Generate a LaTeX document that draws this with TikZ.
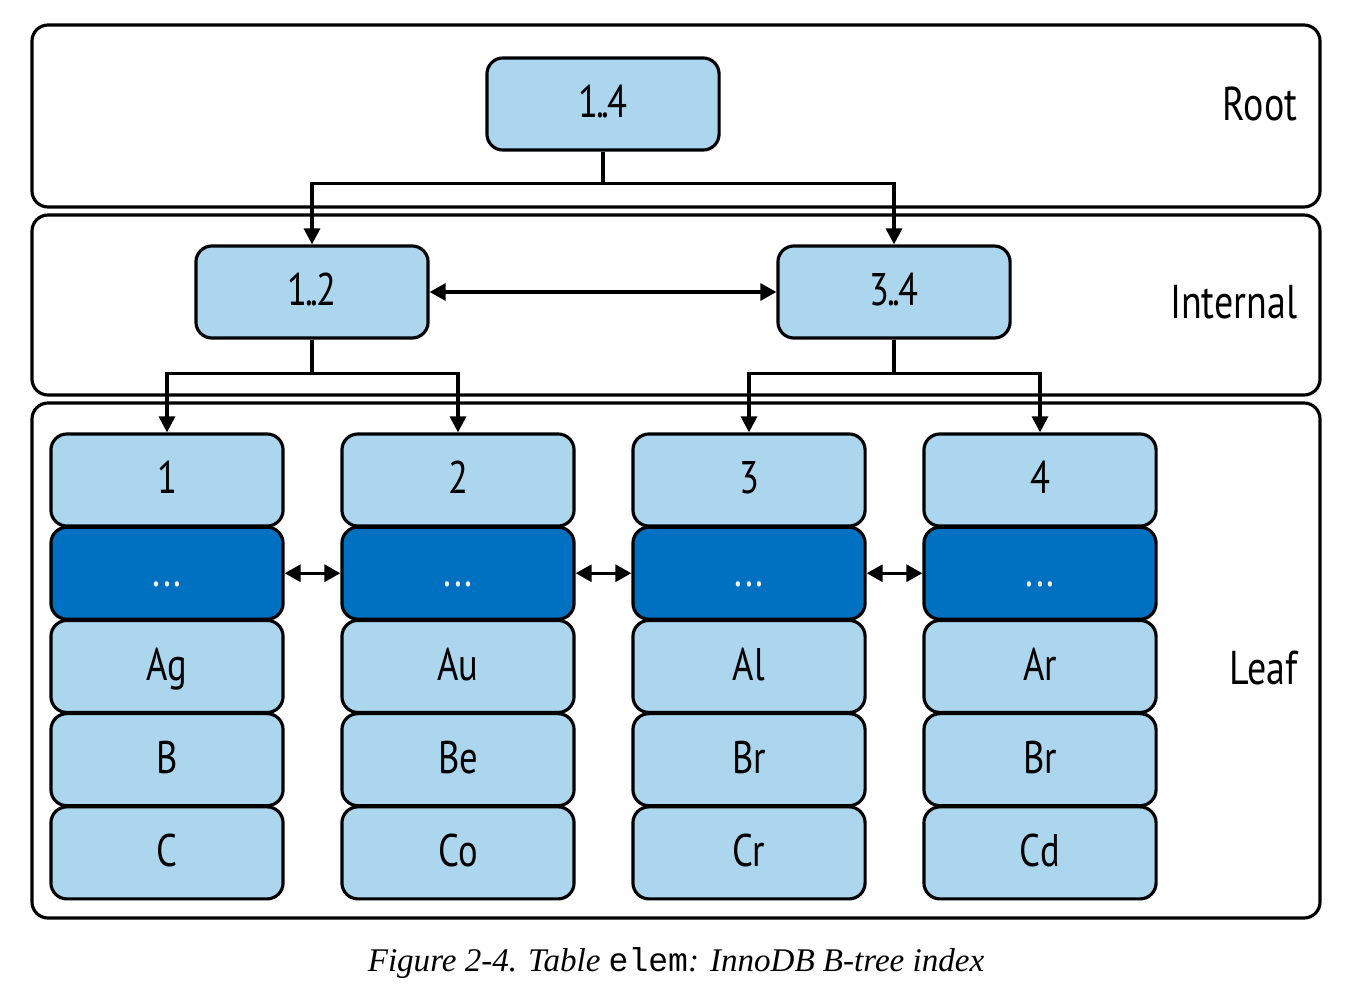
\documentclass[tikz,border=0pt]{standalone}
\usepackage{fontspec}
\setmainfont{Liberation Serif}
\newfontfamily\labelfont[FakeStretch=0.8]{PT Sans}
\newfontfamily\codefont{Liberation Mono}
\usepackage{xcolor}
\usepackage{tikz}
\usetikzlibrary{arrows.meta, positioning}
\definecolor{lightblue}{HTML}{ABD6EE}
\definecolor{darkblue}{HTML}{0070C0}
\tikzstyle{level} = [draw=black, line width=0.9pt, rounded corners=0.16cm]
\tikzstyle{levelname} = [anchor=east, inner sep=0pt, font=\labelfont\fontsize{13.5}{16}\selectfont]
\tikzstyle{page} = [rectangle, rounded corners=0.16cm, minimum width=2.32cm, minimum height=0.92cm, text height=1.9ex, text depth=0.2ex, draw=black, line width=0.9pt, fill=lightblue, text centered, font=\labelfont\fontsize{13}{15}\selectfont]
\tikzstyle{pagedark} = [page, fill=darkblue, text=white]
\tikzstyle{arrow} = [line width=0.9pt, -{Triangle[length=0.16cm, width=0.16cm]}]
\tikzstyle{dblarrow} = [line width=0.9pt, {Triangle[length=0.16cm, width=0.17cm]}-{Triangle[length=0.16cm, width=0.17cm]}]

\begin{document}
\begin{tikzpicture}[x=0.01cm, y=-0.01cm]
		\useasboundingbox (0,0) rectangle (1368,988);
		% levels
		\draw [level] (32,25) rectangle (1320,207);
		\draw [level] (32,215) rectangle (1320,395);
		\draw [level] (32,403) rectangle (1320,918);
		\node (lroot) [levelname] at (1298,104) {Root};
		\node (lint) [levelname] at (1298,302) {Internal};
		\node (lleaf) [levelname] at (1298,668) {Leaf};
		% root and internal pages
		\node (root) [page] at (603,104) {1\kern-0.5pt.\kern-1pt.\kern-0.5pt4};
		\node (int1) [page] at (312,292) {1\kern-0.5pt.\kern-1pt.\kern-0.5pt2};
		\node (int2) [page] at (894,292) {3\kern-0.5pt.\kern-1pt.\kern-0.5pt4};
		% leaf pages
		\node (p1) [page] at (167,480) {1};
		\node (d1) [pagedark,below=-0.02cm of p1] {...};
		\node (a1) [page,below=-0.02cm of d1] {Ag};
		\node (b1) [page,below=-0.02cm of a1] {B};
		\node (c1) [page,below=-0.02cm of b1] {C};
		\node (p2) [page] at (458,480) {2};
		\node (d2) [pagedark,below=-0.02cm of p2] {...};
		\node (a2) [page,below=-0.02cm of d2] {Au};
		\node (b2) [page,below=-0.02cm of a2] {Be};
		\node (c2) [page,below=-0.02cm of b2] {Co};
		\node (p3) [page] at (749,480) {3};
		\node (d3) [pagedark,below=-0.02cm of p3] {...};
		\node (a3) [page,below=-0.02cm of d3] {Al};
		\node (b3) [page,below=-0.02cm of a3] {Br};
		\node (c3) [page,below=-0.02cm of b3] {Cr};
		\node (p4) [page] at (1040,480) {4};
		\node (d4) [pagedark,below=-0.02cm of p4] {...};
		\node (a4) [page,below=-0.02cm of d4] {Ar};
		\node (b4) [page,below=-0.02cm of a4] {Br};
		\node (c4) [page,below=-0.02cm of b4] {Cd};
		% connectors
		\draw [arrow] (root.south) -- ++(0,32) -| (int1.north);
		\draw [arrow] (root.south) -- ++(0,32) -| (int2.north);
		\draw [dblarrow] (int1.east) -- (int2.west);
		\draw [arrow] (int1.south) -- ++(0,34) -| (p1.north);
		\draw [arrow] (int1.south) -- ++(0,34) -| (p2.north);
		\draw [arrow] (int2.south) -- ++(0,34) -| (p3.north);
		\draw [arrow] (int2.south) -- ++(0,34) -| (p4.north);
		\draw [dblarrow] (d1.east) -- (d2.west);
		\draw [dblarrow] (d2.east) -- (d3.west);
		\draw [dblarrow] (d3.east) -- (d4.west);
		% caption
		\node (caption) at (676,963) {\itshape\fontsize{9.4}{11}\selectfont Figure 2-4. Table {\codefont\upshape elem}: InnoDB B-tree index};
	\end{tikzpicture}
\end{document}
